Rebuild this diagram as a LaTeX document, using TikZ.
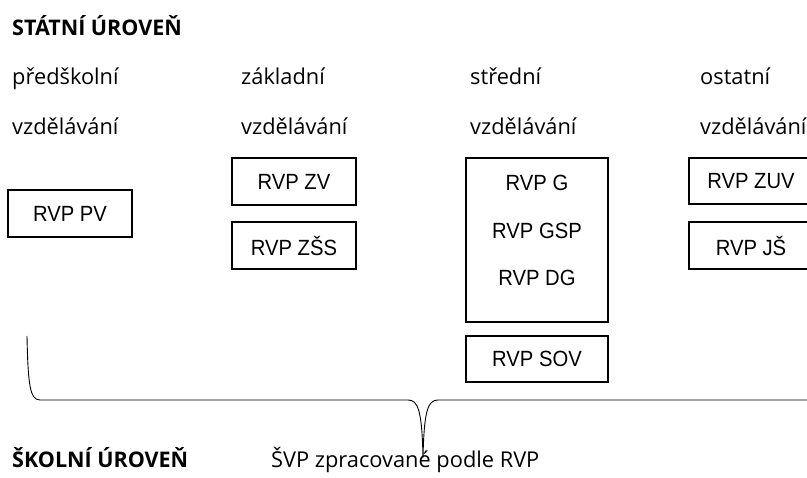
\documentclass[tikz,border=0pt]{standalone}
\usepackage{fontspec}
\setmainfont{Open Sans}
\newfontfamily\boxfont[FakeStretch=0.92]{Liberation Sans}
\begin{document}
\begin{tikzpicture}[x=1pt,y={(0,-1pt)},
  lbl/.style={anchor=base west,inner sep=0pt,font=\fontsize{21.8}{24}\selectfont},
  ttl/.style={anchor=base west,inner sep=0pt,font=\fontsize{21.5}{24}\selectfont\bfseries},
  rvp/.style={draw,line width=1.1pt,inner sep=0pt,font=\boxfont\fontsize{22}{24}\selectfont},
  inner/.style={inner sep=0pt,font=\boxfont\fontsize{22}{24}\selectfont}]
\useasboundingbox (0,0) rectangle (807,478);
\fill[white] (0,0) rectangle (807,478);
% headings
\node[ttl] (st) at (12,36) {STÁTNÍ ÚROVEŇ};
\node[lbl] (p1) at (12,85) {předškolní};
\node[lbl] (p2) at (12,135) {vzdělávání};
\node[lbl] (z1) at (241,85) {základní};
\node[lbl] (z2) at (241,135) {vzdělávání};
\node[lbl] (s1) at (470,85) {střední};
\node[lbl] (s2) at (470,135) {vzdělávání};
\node[lbl] (o1) at (700,85) {ostatní};
\node[lbl] (o2) at (700,135) {vzdělávání};
% boxes
\node[rvp,minimum width=124pt,minimum height=47pt] (pv) at (70,213.5) {RVP PV};
\node[rvp,minimum width=124pt,minimum height=47pt] (zv) at (294,181.5) {RVP ZV};
\node[rvp,minimum width=124pt,minimum height=47pt] (zss) at (294,245.5) {RVP ZŠS};
\node[rvp,minimum width=142pt,minimum height=164pt] (big) at (537,240) {};
\node[inner] (g) at (537,183) {RVP G};
\node[inner] (gsp) at (537,231) {RVP GSP};
\node[inner] (dg) at (537,278) {RVP DG};
\node[rvp,minimum width=142pt,minimum height=46pt] (sov) at (537,359) {RVP SOV};
\node[rvp,minimum width=124pt,minimum height=46pt] (zuv) at (751,181) {RVP ZUV};
\node[rvp,minimum width=124pt,minimum height=47pt] (js) at (751,245.5) {RVP JŠ};
% brace
\coordinate (bl) at (27,336);
\coordinate (bt) at (423,458);
\draw[line width=0.9pt] (bl) .. controls (28,385) and (30,400) .. (40,400) -- (408,400)
  .. controls (418,400) and (422,410) .. (bt)
  .. controls (424,410) and (428,400) .. (438,400) -- (810,400);
% bottom
\node[ttl] (sk) at (12,468) {ŠKOLNÍ ÚROVEŇ};
\node[lbl] (svp) at (271,468) {ŠVP zpracované podle RVP};
\end{tikzpicture}
\end{document}
